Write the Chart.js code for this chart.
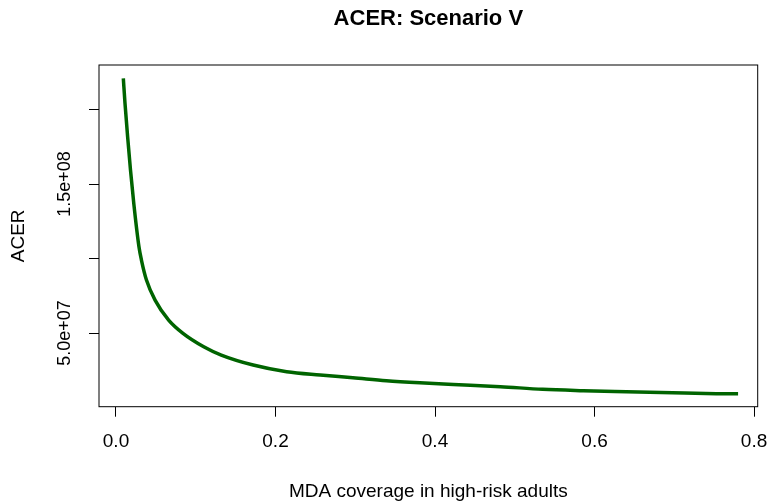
<!DOCTYPE html>
<html>
<head>
<meta charset="utf-8">
<script src="https://cdn.jsdelivr.net/npm/chart.js@4/dist/chart.umd.min.js"></script>
<style>
  html, body { margin: 0; padding: 0; background: #fff; }
  #box { width: 767px; height: 504px; }
</style>
</head>
<body>
<div id="box"><canvas id="acerChart" width="767" height="504"></canvas></div>
<script>
// values
const coverage = [0.0092, 0.0113, 0.0146, 0.0182, 0.0223, 0.0288, 0.0319, 0.0382, 0.049, 0.066, 0.084, 0.11,
    0.132, 0.172, 0.214, 0.256, 0.297, 0.339, 0.381, 0.423, 0.482, 0.535, 0.586, 0.640, 0.698, 0.753, 0.78];
// ACER in millions
const acerMillions = [220.9, 204.2, 181.7, 159.4, 137.0, 107.9, 99.0, 85.6, 72.1, 58.7, 49.8, 40.8,
    35.2, 28.5, 24.0, 21.8, 20.0, 18.0, 16.6, 15.5, 14.0, 12.2, 11.3, 10.6, 9.9, 9.3, 9.2];

const xTicks = [0, 0.2, 0.4, 0.6, 0.8];
const xTickLabels = ['0.0', '0.2', '0.4', '0.6', '0.8'];
const yTicks = [5e7, 1e8, 1.5e8, 2e8];
const yLabelValues = [5e7, 1.5e8];
const yTickLabels = ['5.0e+07', '1.5e+08'];
const chartTitle = 'ACER: Scenario V';

const FONT = '"Liberation Sans", Arial, sans-serif';

// R style: box round the plot, title over the plot region, vertical y tick labels
const rStylePlugin = {
    id: 'rStyle',
    afterDraw(chart) {
        const { ctx, chartArea: a } = chart;
        const yScale = chart.scales.y;
        ctx.save();
        ctx.strokeStyle = '#000';
        ctx.lineWidth = 1;
        ctx.strokeRect(a.left, a.top, a.right - a.left, a.bottom - a.top);
        ctx.fillStyle = '#000';
        ctx.textAlign = 'center';
        ctx.textBaseline = 'middle';
        ctx.font = 'bold 22px ' + FONT;
        ctx.fillText(chartTitle, (a.left + a.right) / 2, 19);
        ctx.font = '18px ' + FONT;
        yLabelValues.forEach((v, i) => {
            const py = yScale.getPixelForValue(v);
            ctx.save();
            ctx.translate(65, py);
            ctx.rotate(-Math.PI / 2);
            ctx.fillText(yTickLabels[i], 0, 0);
            ctx.restore();
        });
        ctx.restore();
    }
};

const ctx = document.getElementById('acerChart').getContext('2d');
const acerChart = new Chart(ctx, {
    type: 'line',
    data: {
        datasets: [{
            data: coverage.map((c, i) => ({ x: c, y: acerMillions[i] * 1e6 })),
            borderColor: '#006400',
            borderWidth: 3.5,
            pointRadius: 0,
            fill: false,
            cubicInterpolationMode: 'monotone'
        }]
    },
    options: {
        responsive: false,
        animation: false,
        layout: { padding: { top: 65, right: 9.3 } },
        plugins: {
            legend: { display: false },
            tooltip: { enabled: false },
            title: { display: false }
        },
        scales: {
            x: {
                type: 'linear',
                min: -0.0213,
                max: 0.8046,
                afterBuildTicks: scale => { scale.ticks = xTicks.map(v => ({ value: v })); },
                afterFit: scale => {
                    scale.height = 97.3;
                    scale.paddingLeft = 0;
                    scale.paddingRight = 0;
                },
                border: { display: false },
                grid: { drawOnChartArea: false, drawTicks: true, tickLength: 10, color: '#000' },
                ticks: {
                    color: '#000',
                    padding: 14,
                    font: { family: FONT, size: 19 },
                    callback: (v, i) => xTickLabels[i]
                },
                title: {
                    display: true,
                    text: 'MDA coverage in high-risk adults',
                    color: '#000',
                    font: { family: FONT, size: 19 },
                    padding: { top: 0, bottom: 1 }
                }
            },
            y: {
                type: 'linear',
                min: 0.54e6,
                max: 229.9e6,
                afterBuildTicks: scale => { scale.ticks = yTicks.map(v => ({ value: v })); },
                afterFit: scale => { scale.width = 99; },
                border: { display: false },
                grid: { drawOnChartArea: false, drawTicks: true, tickLength: 10, color: '#000' },
                ticks: { display: false },
                title: {
                    display: true,
                    text: 'ACER',
                    color: '#000',
                    font: { family: FONT, size: 19 },
                    padding: { top: 7.6, bottom: 0 }
                }
            }
        }
    },
    plugins: [rStylePlugin]
});
</script>
</body>
</html>
